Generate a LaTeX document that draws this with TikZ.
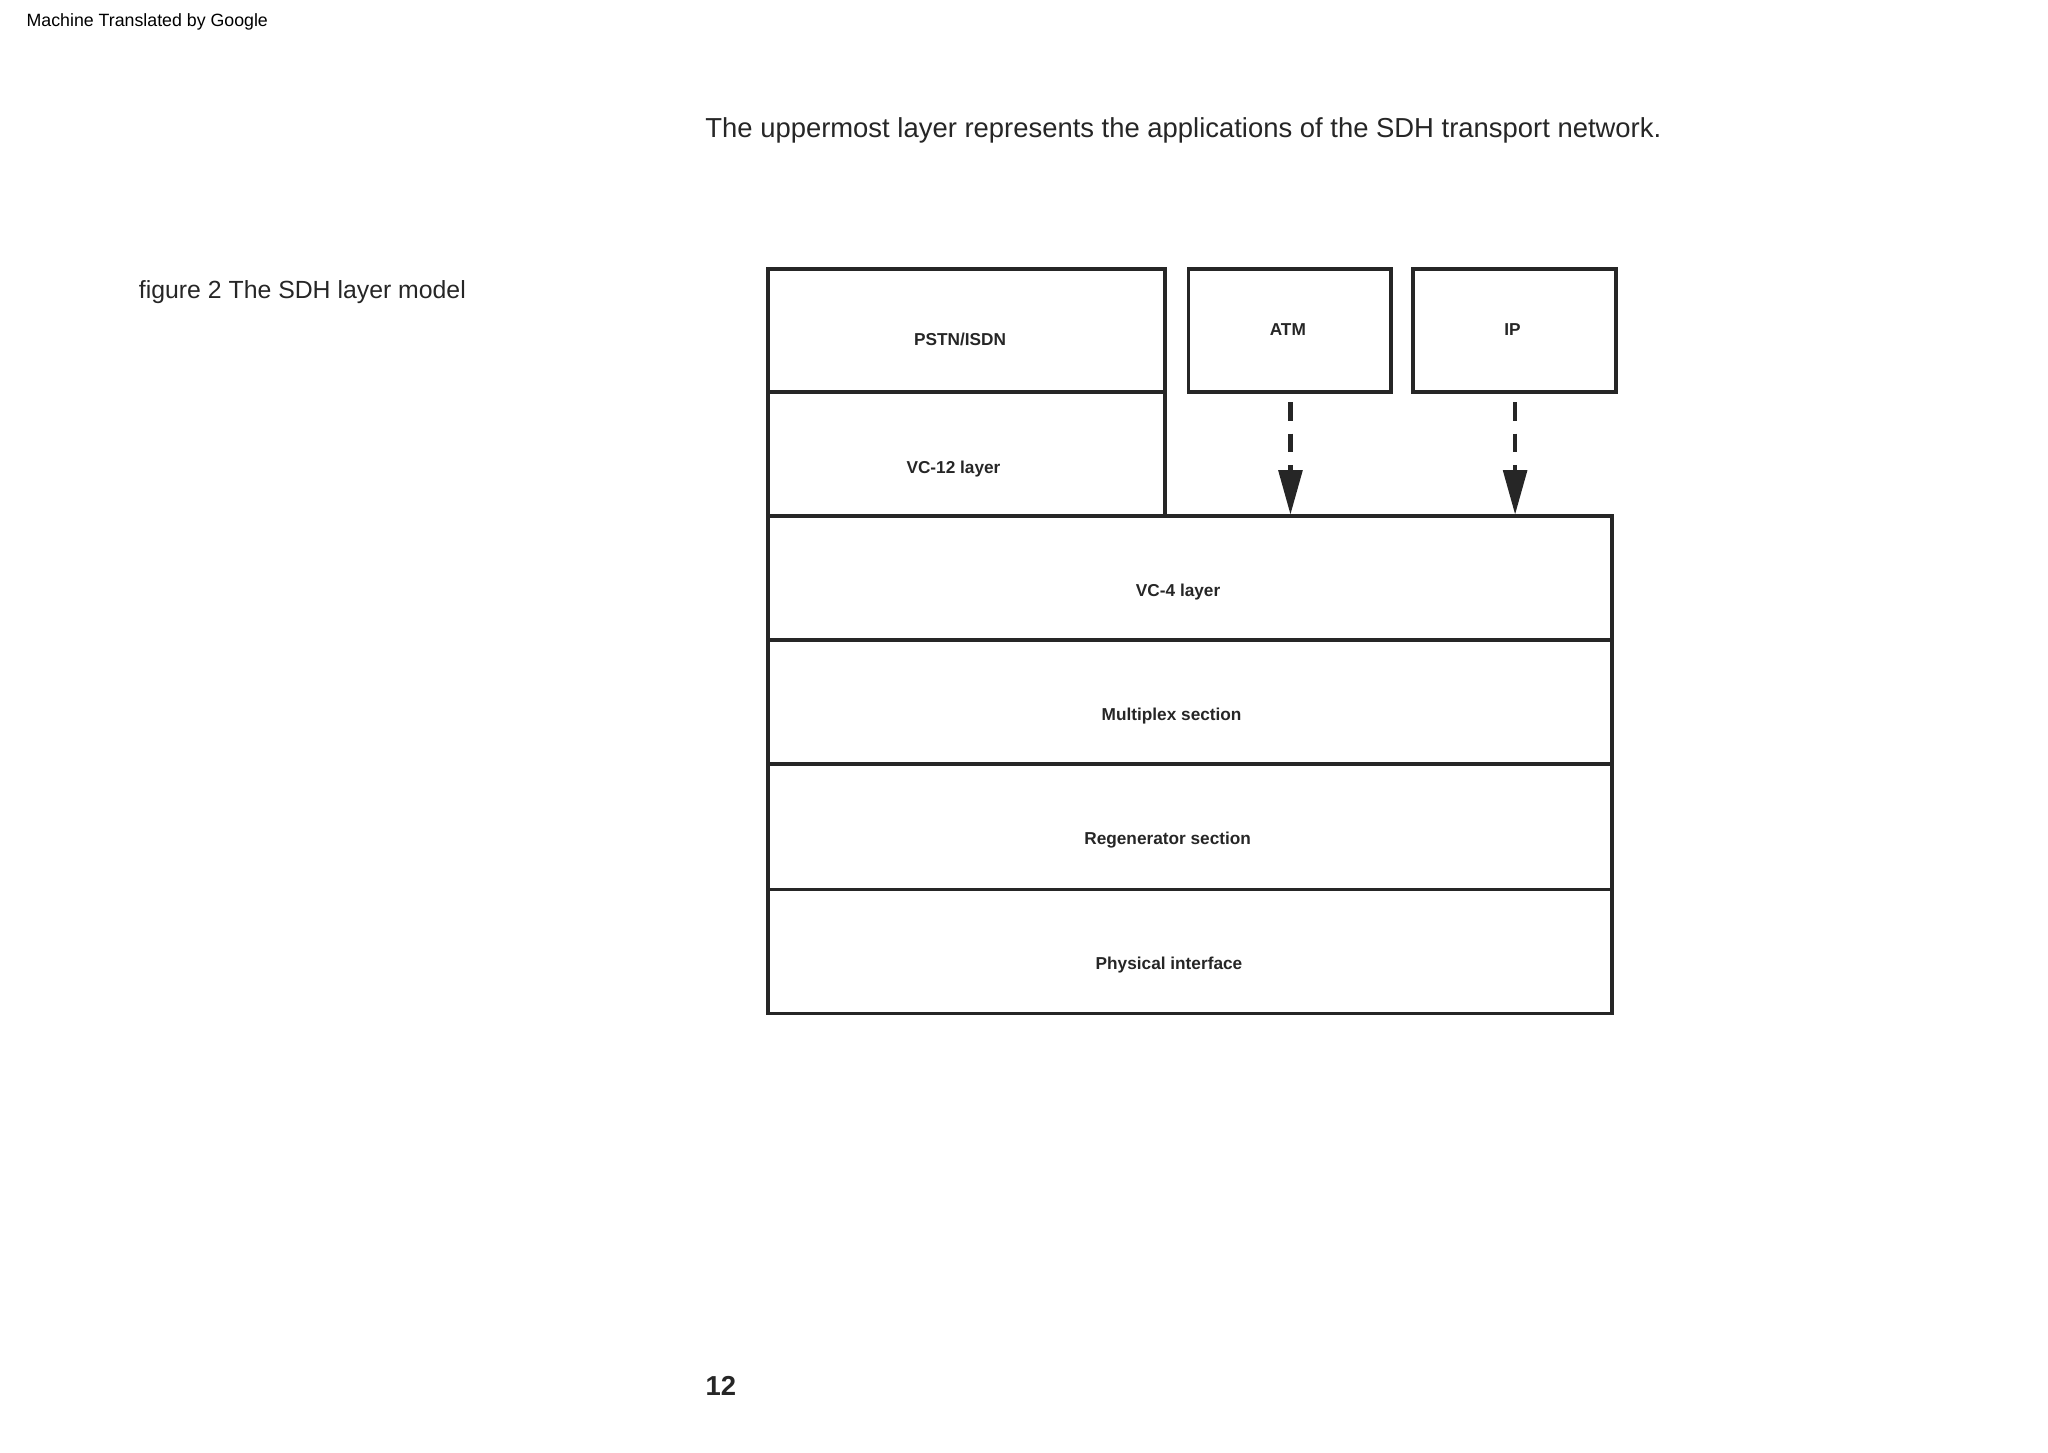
\documentclass[tikz,border=0pt]{standalone}
\usepackage{fontspec}
\setmainfont{Liberation Sans}
\usetikzlibrary{arrows.meta}
\begin{document}
\begin{tikzpicture}[x=0.5pt,y=-0.5pt,
  layer/.style={draw=black!85,line width=1.4pt},
  lbl/.style={font=\fontsize{6.6}{8}\selectfont\bfseries,text=black!85},
  arr/.style={draw=black!85,line width=1.6pt,dash pattern=on 7pt off 5pt,-{Triangle[length=17pt,width=9pt]}}]
\useasboundingbox (0,0) rectangle (1568,1112);
\node[anchor=west,inner sep=0pt,font=\fontsize{6.8}{8}\selectfont] (hdr) at (20,17) {Machine Translated by Google};
\node[font=\fontsize{10.5}{12}\selectfont,text=black!85] (title) at (906,100) {The uppermost layer represents the applications of the SDH transport network.};
\node[anchor=west,inner sep=0pt,font=\fontsize{9.5}{12}\selectfont,text=black!85] (cap) at (106,224) {figure 2 The SDH layer model};
\draw[layer] (588,206) rectangle (892,300);
\node[lbl] (pstn) at (735,260) {PSTN/ISDN};
\draw[layer] (588,300) rectangle (892,395);
\node[lbl] (vc12) at (730,359) {VC-12 layer};
\draw[layer] (910,206) rectangle (1065,300);
\node[lbl] (atm) at (986,252) {ATM};
\draw[layer] (1082,206) rectangle (1237,300);
\node[lbl] (ip) at (1158,252) {IP};
\draw[layer] (588,395) rectangle (1234,490);
\node[lbl] (vc4) at (902,453) {VC-4 layer};
\draw[layer] (588,490) rectangle (1234,585);
\node[lbl] (mux) at (897,548) {Multiplex section};
\draw[layer] (588,585) rectangle (1234,681);
\node[lbl] (reg) at (894,643) {Regenerator section};
\draw[layer] (588,681) rectangle (1234,776);
\node[lbl] (phy) at (895,739) {Physical interface};
\coordinate (a1) at (988,308); \coordinate (a2) at (988,394);
\coordinate (b1) at (1160,308); \coordinate (b2) at (1160,394);
\draw[arr] (a1) -- (a2);
\draw[arr] (b1) -- (b2);
\node[font=\fontsize{10.5}{12}\selectfont\bfseries,text=black!85] (pg) at (552,1061) {12};
\end{tikzpicture}
\end{document}
